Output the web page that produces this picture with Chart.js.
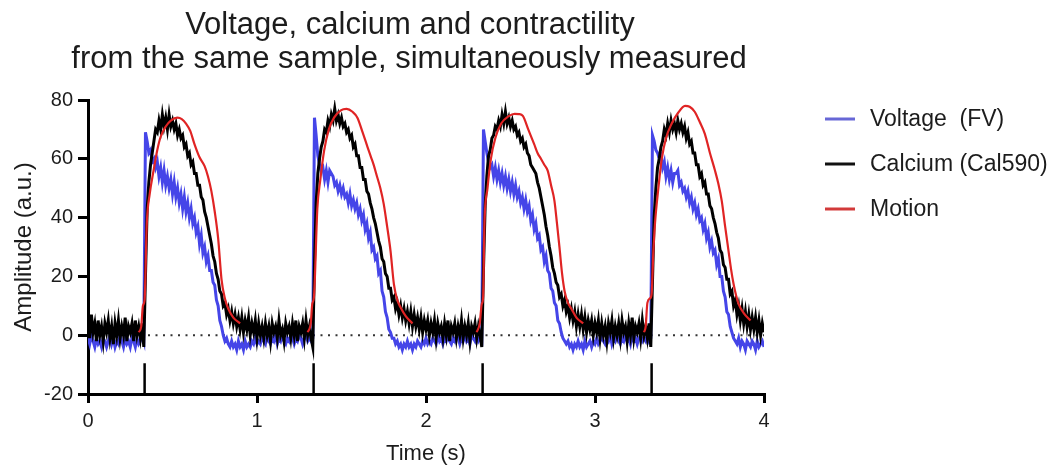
<!DOCTYPE html>
<html>
<head>
<meta charset="utf-8">
<script src="https://cdn.jsdelivr.net/npm/chart.js@4.4.1/dist/chart.umd.min.js"></script>
<style>
  html, body { margin: 0; padding: 0; background: #ffffff; }
  #wrap { width: 1063px; height: 472px; }
</style>
</head>
<body>
<div id="wrap"><canvas id="c" width="1063" height="472"></canvas></div>
<script>
// ---------------- DATA ----------------
const TITLE_LINES = ['Voltage, calcium and contractility', 'from the same sample, simultaneously measured'];
const SERIES_NAMES = ['Voltage  (FV)', 'Calcium (Cal590)', 'Motion'];
const X_TICKS = [0, 1, 2, 3, 4];
const Y_TICKS = [-20, 0, 20, 40, 60, 80];

// sampled traces: one sample every 10 ms, from 0.00 s to 4.00 s
const SAMPLE_INTERVAL_S = 0.01;

const voltage = [
  -1,-3,0,-2,-4,-1,-3,-2,-4,-1,
  -2,-4,-2,0,-3,-1,-4,-2,-3,0,
  -2,-4,-1,-3,-2,-4,-1,-2,-4,-1,
  -3,-2,0,-2,69,66,62,63,59,60,
  57,59,54,57,52,56,51,54,50,53,
  48,52,47,50,45,48,43,47,42,45,
  40,43,38,40,35,37,31,34,28,30,
  25,27,22,22,18,17,12,10,5,3,
  0,-2,-1,-3,-4,-2,-4,-3,-5,-2,
  -4,-3,-5,-2,-4,-3,-4,-2,-3,-1,
  -3,-2,-3,-1,-2,-3,0,-2,-3,-1,
  -2,0,-3,-1,-2,0,-2,-3,-1,-2,
  0,-1,-3,-1,-2,0,-1,-3,-1,0,
  -2,-1,-2,-1,74,68,61,58,56,57,
  53,56,52,56,55,54,51,52,49,51,
  48,50,47,48,45,48,44,46,43,45,
  41,43,39,41,36,38,33,35,29,30,
  26,27,21,22,15,13,8,6,2,1,
  -1,-1,-3,-2,-4,-3,-5,-3,-4,-2,
  -4,-3,-5,-3,-4,-2,-3,-4,-2,-3,
  -1,-3,-2,-3,-1,-2,-3,0,-2,-1,
  -3,-1,-2,0,-2,-3,-1,-2,0,-1,
  -3,-1,-2,0,-2,-1,-3,0,-1,-2,
  0,-2,-1,-2,70,66,62,59,57,58,
  54,57,53,56,52,55,51,54,50,53,
  49,52,48,51,47,49,45,47,43,46,
  42,44,39,41,36,38,33,34,29,30,
  25,27,22,21,16,15,11,10,5,4,
  1,-1,-2,-3,-2,-4,-3,-5,-3,-4,
  -2,-4,-3,-5,-2,-4,-3,-2,-4,-2,
  -3,-1,-3,-2,0,-2,-3,-1,-2,0,
  -3,-1,-2,0,-2,-3,-1,-2,0,-2,
  -1,-3,0,-2,-1,-3,-1,0,-2,-1,
  -2,0,-2,-1,68,66,63,62,60,61,
  57,59,54,57,53,56,52,55,55,56,
  51,52,49,50,47,49,45,47,43,45,
  41,43,39,40,36,38,33,35,30,32,
  28,29,24,26,20,20,15,13,8,7,
  3,1,-1,-2,-3,-1,-4,-2,-3,-5,
  -2,-3,-4,-2,-3,-5,-2,-4,-3,-2,
  -4
];

const calcium = [
  5,-1,7,1,4,-2,5,0,3,-2,
  4,1,5,-1,3,-3,4,0,5,-1,
  3,0,6,-2,3,1,4,-2,5,0,
  3,-1,4,-4,20,43,52,58,62,66,
  70,69,73,70,75,71,74,70,75,71,
  73,70,72,68,70,67,68,64,65,61,
  62,58,59,55,55,51,51,47,46,42,
  40,37,34,31,27,25,21,19,15,14,
  10,11,7,9,5,8,4,7,3,6,
  2,6,1,5,2,6,0,4,1,5,
  -1,4,0,3,-1,4,0,3,-2,4,
  1,3,-1,5,0,2,-2,4,1,3,
  -1,4,0,5,-2,3,1,4,-1,5,
  0,3,-1,-4,24,45,55,60,64,66,
  70,69,73,71,75,73,77,73,75,72,
  74,71,72,69,70,67,68,64,65,61,
  61,57,57,53,53,49,48,45,43,40,
  38,35,32,30,26,25,21,20,16,16,
  12,13,9,11,7,10,6,9,5,8,
  4,8,3,7,3,6,2,6,1,5,
  2,5,0,4,1,5,-1,4,1,3,
  -1,4,0,5,-2,3,1,4,-1,3,
  0,5,-1,3,0,4,-2,3,1,4,
  -1,3,0,-4,22,44,54,61,63,67,
  68,71,70,73,71,75,72,76,72,74,
  71,73,70,71,68,69,66,67,64,65,
  62,61,58,57,56,55,52,50,47,44,
  41,37,34,30,27,23,21,18,17,13,
  14,10,12,8,10,6,9,5,8,3,
  7,3,7,2,6,1,5,2,5,0,
  4,1,5,-1,4,0,3,-2,4,1,
  5,-1,3,0,4,-1,5,1,3,-2,
  4,0,6,-1,3,1,4,-1,5,0,
  3,-1,4,-4,18,40,50,57,60,64,
  66,70,68,72,69,73,70,72,69,73,
  70,72,69,71,67,69,65,66,62,62,
  58,58,54,55,51,52,48,48,44,43,
  40,38,35,33,29,28,24,23,19,19,
  14,15,10,12,7,10,5,9,4,8,
  3,7,2,6,2,6,1,5,0,4,
  1
];

// motion (smooth), read at key times; null separates the beats
const motionTimes = [
  0.300,0.315,0.325,0.335,0.348,0.365,0.388,0.410,0.430,0.460,0.490,0.530,0.555,0.580,0.605,0.630,0.660,0.690,0.710,0.730,0.750,0.770,0.790,0.810,0.830,0.860,0.900,
  0.950,
  1.300,1.318,1.327,1.337,1.357,1.375,1.397,1.425,1.456,1.496,1.530,1.565,1.594,1.625,1.654,1.675,1.690,1.710,1.730,1.750,1.770,1.790,1.810,1.830,1.850,1.880,1.920,
  1.950,
  2.300,2.318,2.330,2.338,2.346,2.364,2.384,2.410,2.445,2.490,2.524,2.550,2.573,2.605,2.640,2.660,2.680,2.700,2.720,2.740,2.760,2.775,2.790,2.805,2.820,2.840,2.860,2.890,2.930,
  2.960,
  3.290,3.300,3.310,3.325,3.335,3.345,3.355,3.375,3.395,3.420,3.454,3.490,3.533,3.560,3.590,3.620,3.650,3.680,3.710,3.730,3.750,3.770,3.790,3.805,3.820,3.835,3.850,3.880,3.920
];
const motionValues = [
  1,3,10,12,38,48,56,63,67.5,71,73,74,73.5,72,69.5,65,60.5,57.5,54,49,42,33,19,12.5,9,6,4,
  null,
  1,4,10.6,13,43,53,62.7,70,74,76.5,77,76,74,69,64,60.5,58,54,50,44.6,37,28.7,17.4,12,9.4,6.5,4,
  null,
  1,4,10.6,13,37.8,50,60,67,72,74.5,75.3,75.2,74.6,70,65,62,60,58,56,51,45.7,38,29.8,21,15,11,9,6,4,
  null,
  1,3,11,12.5,14,28,38,50,60,67,72,75.5,78,77.7,76,72.5,68.5,62,56,51.5,45.7,37,28.7,22.5,17.4,13.5,10.6,7.5,5
];

// stimulus markers (s) and their top (a.u.), drawn up from the x axis
const stimulusTimes = [0.335, 1.335, 2.335, 3.335];
const STIM_MARK_BOTTOM = -20;
const STIM_MARK_TOP = -9.5;
const ZERO_LEVEL = 0;

// ---------------- STYLE ----------------
const COLORS = { voltage: '#4545e8', calcium: '#000000', motion: '#e02424' };
const LEGEND_COLORS = ['#6767d6', '#111111', '#d23a3a'];
const FONT = "'Liberation Sans', Arial, sans-serif";
const TEXT = '#1c1c1c';

// ---------------- BUILD ----------------
const toXY = (arr) => arr.map((v, i) => ({ x: +(i * SAMPLE_INTERVAL_S).toFixed(2), y: v }));
const motionXY = motionTimes.map((t, i) => ({ x: t, y: motionValues[i] }));
const stimXY = [];
stimulusTimes.forEach(t => {
  stimXY.push({ x: t, y: STIM_MARK_BOTTOM }, { x: t, y: STIM_MARK_TOP }, { x: t, y: null });
});
const zeroXY = [{ x: X_TICKS[0], y: ZERO_LEVEL }, { x: X_TICKS[X_TICKS.length - 1], y: ZERO_LEVEL }];

const overlayText = {
  id: 'overlayText',
  afterDraw(chart) {
    const ctx = chart.ctx;
    ctx.save();
    // title
    ctx.fillStyle = TEXT;
    ctx.font = '31px ' + FONT;
    ctx.textAlign = 'center';
    ctx.textBaseline = 'alphabetic';
    ctx.fillText(TITLE_LINES[0], 410, 34);
    ctx.fillText(TITLE_LINES[1], 409, 68);
    // legend
    const ys = [119, 164, 209];
    ctx.font = '23px ' + FONT;
    ctx.textAlign = 'left';
    ctx.textBaseline = 'middle';
    SERIES_NAMES.forEach((name, i) => {
      ctx.strokeStyle = LEGEND_COLORS[i];
      ctx.lineWidth = 3;
      ctx.beginPath();
      ctx.moveTo(825, ys[i]);
      ctx.lineTo(855, ys[i]);
      ctx.stroke();
      ctx.fillStyle = TEXT;
      ctx.fillText(name, 870, ys[i] + 1);
    });
    ctx.restore();
  }
};

new Chart(document.getElementById('c'), {
  type: 'line',
  data: {
    datasets: [
      { label: SERIES_NAMES[2], data: motionXY, borderColor: COLORS.motion, borderWidth: 2.2,
        pointRadius: 0, cubicInterpolationMode: 'monotone', spanGaps: false, order: 0 },
      { label: SERIES_NAMES[1], data: toXY(calcium), borderColor: COLORS.calcium, borderWidth: 3,
        pointRadius: 0, tension: 0, order: 1 },
      { label: SERIES_NAMES[0], data: toXY(voltage), borderColor: COLORS.voltage, borderWidth: 3,
        pointRadius: 0, tension: 0, order: 2 },
      { label: 'zero', data: zeroXY, borderColor: '#333333', borderWidth: 2, borderDash: [2, 5.5],
        pointRadius: 0, order: 3 },
      { label: 'stimulus', data: stimXY, borderColor: '#000000', borderWidth: 2.5,
        pointRadius: 0, spanGaps: false, order: 4 }
    ]
  },
  options: {
    responsive: false,
    devicePixelRatio: 1,
    animation: false,
    layout: { padding: { top: 100, right: 299, left: 0, bottom: 0 } },
    plugins: { legend: { display: false }, title: { display: false }, tooltip: { enabled: false } },
    scales: {
      x: {
        type: 'linear', min: X_TICKS[0], max: X_TICKS[X_TICKS.length - 1],
        afterBuildTicks: (s) => { s.ticks = X_TICKS.map(v => ({ value: v })); },
        afterFit: (s) => { s.height = 78; },
        ticks: { color: TEXT, font: { family: FONT, size: 20 }, padding: 6, maxRotation: 0 },
        grid: { drawOnChartArea: false, drawTicks: true, tickLength: 9, color: '#000', lineWidth: 3 },
        border: { display: true, color: '#000', width: 3 },
        title: { display: true, text: 'Time (s)', color: TEXT, font: { family: FONT, size: 22 },
                 padding: { top: 0, bottom: 5 } }
      },
      y: {
        type: 'linear', min: Y_TICKS[0], max: Y_TICKS[Y_TICKS.length - 1],
        afterBuildTicks: (s) => { s.ticks = Y_TICKS.map(v => ({ value: v })); },
        afterFit: (s) => { s.width = 88; },
        ticks: { color: TEXT, font: { family: FONT, size: 20 }, padding: 5 },
        grid: { drawOnChartArea: false, drawTicks: true, tickLength: 10, color: '#000', lineWidth: 3 },
        border: { display: true, color: '#000', width: 3 },
        title: { display: true, text: 'Amplitude (a.u.)', color: TEXT, font: { family: FONT, size: 24 },
                 padding: { top: 10, bottom: 0 } }
      }
    }
  },
  plugins: [overlayText]
});
</script>
</body>
</html>
